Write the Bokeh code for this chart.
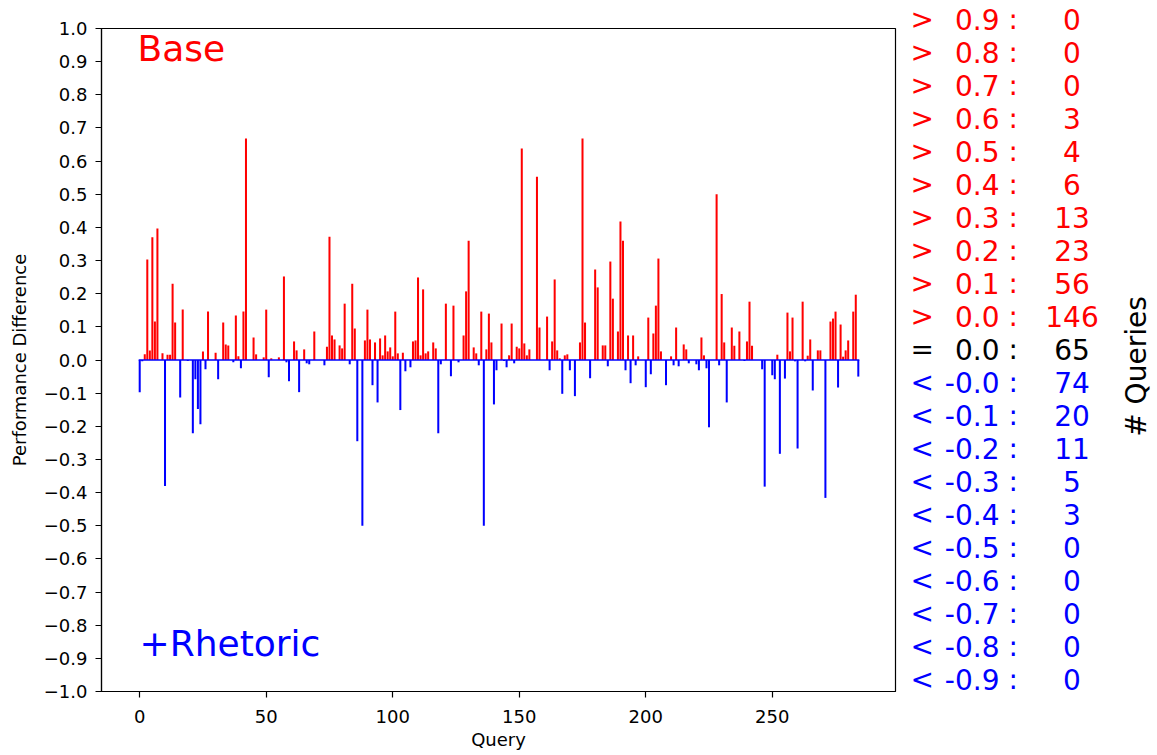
import math
from bokeh.plotting import figure
from bokeh.models import Range1d, FixedTicker, CustomJSTickFormatter, ColumnDataSource
from bokeh.core.properties import value
from bokeh.embed import file_html
from bokeh.resources import INLINE

# ---------------- data (performance difference per query) ----------------
diff_000_049 = [-0.097, -0.004, 0.017, 0.303, 0.029, 0.37, 0.116, 0.397, 0.0, 0.02,
                -0.38, 0.016, 0.016, 0.23, 0.113, 0.0, -0.113, 0.152, 0.0, -0.003,
                0.0, -0.221, -0.058, -0.148, -0.194, 0.026, -0.028, 0.146, 0.0, 0.0,
                0.022, -0.058, 0.0, 0.113, 0.047, 0.044, 0.0, -0.007, 0.134, 0.011,
                -0.025, 0.146, 0.668, 0.0, 0.0, 0.068, 0.017, 0.0, 0.0, 0.008]
diff_050_099 = [0.152, -0.052, 0.005, 0.0, 0.0, 0.008, 0.0, 0.252, -0.007, -0.064,
                0.0, 0.056, 0.029, -0.097, 0.0, 0.032, -0.01, -0.013, 0.0, 0.086,
                0.0, 0.0, 0.0, -0.016, 0.04, 0.372, 0.074, 0.062, 0.0, 0.044,
                0.035, 0.17, 0.0, -0.013, 0.23, 0.095, -0.245, 0.0, -0.5, 0.059,
                0.152, 0.062, -0.076, 0.053, -0.128, 0.065, 0.014, 0.074, 0.026, 0.038]
diff_100_149 = [0.011, 0.146, 0.02, -0.151, 0.022, -0.034, 0.0, -0.022, 0.056, 0.059,
                0.249, 0.014, 0.213, 0.02, 0.026, 0.0, 0.053, 0.035, -0.221, -0.013,
                0.0, 0.17, 0.0, -0.049, 0.164, 0.0, -0.007, 0.0, 0.074, 0.207,
                0.36, 0.0, 0.038, 0.02, -0.016, 0.146, -0.5, 0.032, 0.14, 0.053,
                -0.134, -0.031, 0.0, 0.11, -0.003, -0.022, 0.014, 0.11, -0.01, 0.04]
diff_150_199 = [0.035, 0.638, 0.05, 0.014, 0.032, 0.0, 0.0, 0.553, 0.098, 0.0,
                0.0, 0.131, -0.031, 0.056, 0.243, 0.029, 0.005, -0.102, 0.014, 0.017,
                -0.031, 0.0, -0.109, 0.0, 0.053, 0.668, 0.113, 0.0, -0.055, 0.0,
                0.273, 0.219, 0.0, 0.044, 0.044, -0.019, 0.297, 0.185, 0.0, 0.086,
                0.418, 0.36, -0.031, 0.074, -0.07, 0.074, -0.016, 0.011, 0.0, 0.0]
diff_200_249 = [-0.082, 0.128, -0.043, 0.08, 0.164, 0.306, 0.026, 0.0, -0.076, 0.0,
                0.011, -0.016, 0.098, -0.019, 0.0, 0.047, 0.032, -0.01, 0.0, 0.0,
                -0.013, -0.031, 0.068, 0.014, -0.025, -0.203, 0.0, 0.0, 0.5, -0.016,
                0.199, 0.053, -0.128, 0.0, 0.098, 0.043, 0.0, 0.086, 0.0, -0.003,
                0.056, 0.176, 0.043, 0.0, 0.0, 0.0, -0.028, -0.382, 0.0, 0.0]
diff_250_284 = [-0.046, -0.058, 0.016, -0.283, 0.0, -0.056, 0.143, 0.026, 0.128, -0.004,
                -0.267, 0.0, 0.176, -0.004, 0.013, 0.062, -0.092, 0.0, 0.029, 0.029,
                0.0, -0.416, 0.0, 0.116, 0.125, 0.146, -0.083, 0.107, 0.01, 0.029,
                0.059, 0.0, 0.146, 0.197, -0.05]

diff = diff_000_049 + diff_050_099 + diff_100_149 + diff_150_199 + diff_200_249 + diff_250_284
queries = list(range(len(diff)))

pos_thresholds = [0.9, 0.8, 0.7, 0.6, 0.5, 0.4, 0.3, 0.2, 0.1, 0.0]
neg_thresholds = [-0.0, -0.1, -0.2, -0.3, -0.4, -0.5, -0.6, -0.7, -0.8, -0.9]

x_ticks = [0, 50, 100, 150, 200, 250]
y_ticks = [round(-1.0 + 0.1 * k, 1) for k in range(21)]

RED = "#ff0000"
BLUE = "#0000ff"
FONT = "DejaVu Sans"

# ---------------- geometry: the whole canvas is the frame; axes box placed inside ----------------
W, H = 1157, 755
X_MIN, X_MAX = -15.1, 298.7          # x extent of the axes box
Y_MIN, Y_MAX = -1.0, 1.0             # y extent of the axes box
BOX_L, BOX_R, BOX_T, BOX_B = 101, 895, 28, 691   # axes box in canvas pixels
PPX = (BOX_R - BOX_L) / (X_MAX - X_MIN)
PPY = (BOX_B - BOX_T) / (Y_MAX - Y_MIN)
def xd(px):
    return X_MIN + (px - BOX_L) / PPX
def yd(py):
    return Y_MAX - (py - BOX_T) / PPY

p = figure(title=None, width=W, height=H,
           min_border=0, min_border_left=0, min_border_right=0,
           min_border_top=0, min_border_bottom=0,
           x_range=Range1d(xd(0), xd(W)), y_range=Range1d(yd(H), yd(0)),
           output_backend="svg", toolbar_location=None)
p.background_fill_color = "white"
p.border_fill_color = "white"
p.outline_line_color = None
p.xgrid.visible = False
p.ygrid.visible = False

# ---------------- bars ----------------
pos_vals = [v if v > 0 else 0.0 for v in diff]
neg_vals = [v if v < 0 else 0.0 for v in diff]
src = ColumnDataSource(dict(q=queries, pos=pos_vals, neg=neg_vals))
BAR_W = 0.8
p.vbar(x="q", top="pos", bottom=0, width=BAR_W, source=src, fill_color=RED, line_color=None)
p.vbar(x="q", top=0, bottom="neg", width=BAR_W, source=src, fill_color=BLUE, line_color=None)
p.segment(x0=[queries[0] - BAR_W / 2], x1=[queries[-1] + BAR_W / 2], y0=[0], y1=[0],
          line_color=BLUE, line_width=1.3)

# axes box (top and right spines; left/bottom coincide with the axes)
p.quad(left=[X_MIN], right=[X_MAX], bottom=[Y_MIN], top=[Y_MAX],
       fill_color=None, line_color="black", line_width=1.2)

# ---------------- axes, fixed onto the box edges ----------------
for ax in (p.xaxis, p.yaxis):
    ax.axis_line_color = "black"
    ax.axis_line_width = 1.2
    ax.major_tick_line_color = "black"
    ax.major_tick_line_width = 1.2
    ax.major_tick_out = 6
    ax.major_tick_in = 0
    ax.minor_tick_line_color = None
    ax.major_label_text_font = FONT
    ax.major_label_text_font_size = "18px"
    ax.major_label_text_color = "black"

p.xaxis.fixed_location = Y_MIN
p.xaxis.bounds = (X_MIN, X_MAX)
p.xaxis.ticker = FixedTicker(ticks=x_ticks)
p.xaxis.major_label_standoff = 12

p.yaxis.fixed_location = X_MIN
p.yaxis.bounds = (Y_MIN, Y_MAX)
p.yaxis.ticker = FixedTicker(ticks=y_ticks)
p.yaxis.formatter = CustomJSTickFormatter(
    code="return (tick < -1e-9 ? '\u2212' : '') + Math.abs(tick).toFixed(1);")
p.yaxis.major_label_standoff = 8

MID = "middle"
# axis titles
p.text(x=[xd((BOX_L + BOX_R) / 2)], y=[yd(739)], text=["Query"], text_color="black",
       text_font=value(FONT), text_font_size=value("18px"),
       text_align="center", text_baseline=MID)
p.text(x=[xd(19)], y=[yd((BOX_T + BOX_B) / 2)], text=["Performance Difference"],
       angle=math.pi / 2, text_color="black", text_font=value(FONT),
       text_font_size=value("18px"), text_align="center", text_baseline=MID)

# in-plot titles
p.text(x=[xd(137)], y=[yd(47.5)], text=["Base"], text_color=RED, text_font=value(FONT),
       text_font_size=value("36px"), text_align="left", text_baseline=MID)
p.text(x=[xd(139)], y=[yd(642.5)], text=["+Rhetoric"], text_color=BLUE, text_font=value(FONT),
       text_font_size=value("36px"), text_align="left", text_baseline=MID)

# ---------------- summary counts on the right ----------------
syms, thrs, cnts, cols = [], [], [], []
for t in pos_thresholds:
    syms.append(">"); thrs.append(f"{t:.1f}")
    cnts.append(str(sum(1 for v in diff if v > t))); cols.append(RED)
syms.append("="); thrs.append("0.0")
cnts.append(str(sum(1 for v in diff if v == 0))); cols.append("black")
for t in neg_thresholds:
    syms.append("<"); thrs.append(f"{t:.1f}")
    cnts.append(str(sum(1 for v in diff if v < t))); cols.append(BLUE)

n_rows = len(syms)
side = ColumnDataSource(dict(
    y=[yd(19 + 33 * k) for k in range(n_rows)],
    sym=syms, thr=thrs, colon=[":"] * n_rows, cnt=cnts, col=cols,
    xs=[xd(910)] * n_rows, xt=[xd(999)] * n_rows, xc=[xd(1008)] * n_rows,
    xn=[xd(1071.5)] * n_rows))
SIDE_SIZE = value("28px")
common = dict(source=side, y="y", text_color="col", text_font=value(FONT),
              text_font_size=SIDE_SIZE, text_baseline=MID)
p.text(x="xs", text="sym", text_align="left", **common)
p.text(x="xt", text="thr", text_align="right", **common)
p.text(x="xc", text="colon", text_align="left", **common)
p.text(x="xn", text="cnt", text_align="center", **common)
p.text(x=[xd(1136)], y=[yd(366)], text=["# Queries"], angle=math.pi / 2,
       text_color="black", text_font=value(FONT), text_font_size=SIDE_SIZE,
       text_align="center", text_baseline=MID)

open("out.html", "w").write(file_html(p, INLINE))
